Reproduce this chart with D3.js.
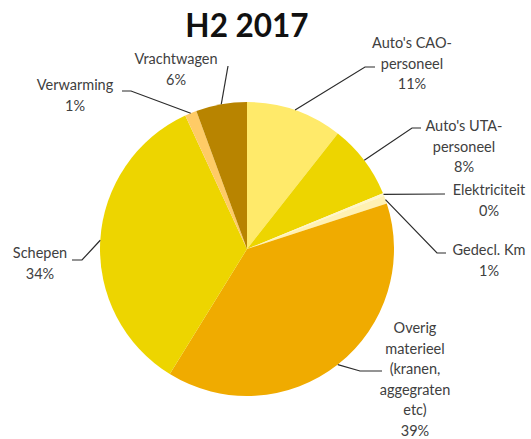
<!DOCTYPE html>
<html lang="nl">
<head>
<meta charset="UTF-8">
<title>H2 2017</title>
<script src="https://cdn.jsdelivr.net/npm/d3@7"></script>
<style>
  body { margin: 0; background: #fff; }
  text { font-family: Lato, "Open Sans", sans-serif; }
</style>
</head>
<body>
<svg width="531" height="439"></svg>
<script>
// data
var categories = ["Auto's CAO-personeel", "Auto's UTA-personeel", "Elektriciteit", "Gedecl. Km",
                  "Overig materieel (kranen, aggegraten etc)", "Schepen", "Verwarming", "Vrachtwagen"];
var shares = [10.6, 8.2, 0.3, 0.9, 38.8, 34.3, 1.3, 5.6];
var pctLabels = ["11%", "8%", "0%", "1%", "39%", "34%", "1%", "6%"];
var labelLines = [
  ["Auto's CAO-", "personeel"],
  ["Auto's UTA-", "personeel"],
  ["Elektriciteit"],
  ["Gedecl. Km"],
  ["Overig", "materieel", "(kranen,", "aggegraten", "etc)"],
  ["Schepen"],
  ["Verwarming"],
  ["Vrachtwagen"]
];
var colors = ["#FFEA6A", "#EDD500", "#FFF6C8", "#FFF1B3", "#F0AB00", "#EDD500", "#FFCB66", "#B88400"];

// layout of the labels: text centre, first line y, leader elbow and leader end
var labelPos = [
  {x: 412, y: 43, elbow: [365, 67], end: [375, 67]},
  {x: 464, y: 126, elbow: [412, 128], end: [421, 128]},
  {x: 489, y: 190, elbow: [445, 194], end: [445, 194]},
  {x: 489, y: 250, elbow: [437, 253], end: [446, 253]},
  {x: 415, y: 328, elbow: [360, 371], end: [382, 371]},
  {x: 40, y: 253, elbow: [82, 260], end: [72, 260]},
  {x: 75, y: 85, elbow: [131, 91], end: [122, 91]},
  {x: 176, y: 59, elbow: [228, 66], end: [228, 66]}
];

var svg = d3.select('svg');
var cx = 247, cy = 249, r = 147;
var lineH = 20.5;

svg.append('text')
  .attr('x', 247).attr('y', 37)
  .attr('text-anchor', 'middle')
  .attr('font-size', 31.5).attr('font-weight', 'bold')
  .attr('fill', '#111')
  .text('H2 2017');

var pie = d3.pie().sort(null).value(function (d) { return d; });
var arcs = pie(shares);
var arc = d3.arc().innerRadius(0).outerRadius(r);

var g = svg.append('g').attr('transform', 'translate(' + cx + ',' + cy + ')');
g.selectAll('path').data(arcs).enter().append('path')
  .attr('d', arc)
  .attr('fill', function (d, i) { return colors[i]; });

// leader lines from the middle of each slice's rim
arcs.forEach(function (a, i) {
  var mid = (a.startAngle + a.endAngle) / 2;
  var sx = cx + Math.sin(mid) * r, sy = cy - Math.cos(mid) * r;
  var p = labelPos[i];
  svg.append('polyline')
    .attr('points', [[sx, sy], p.elbow, p.end].map(function (q) { return q.join(','); }).join(' '))
    .attr('fill', 'none')
    .attr('stroke', '#2b2b2b')
    .attr('stroke-width', 1.2);

  var t = svg.append('text')
    .attr('x', p.x).attr('y', p.y)
    .attr('text-anchor', 'middle')
    .attr('font-size', 14.5)
    .attr('fill', '#404040');
  labelLines[i].concat([pctLabels[i]]).forEach(function (s, k) {
    t.append('tspan')
      .attr('x', p.x)
      .attr('y', p.y + k * lineH)
      .attr('dy', '0.35em')
      .text(s);
  });
});
</script>
</body>
</html>
